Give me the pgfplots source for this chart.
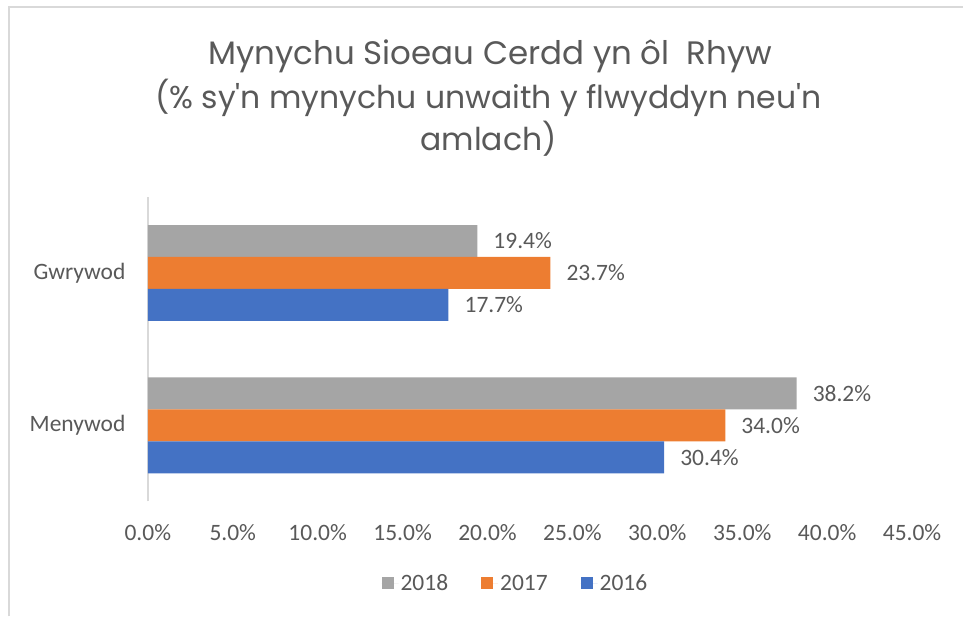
\documentclass[border=0pt]{standalone}
\usepackage{fontspec}
\setmainfont{Carlito}
\newfontfamily\titlefont{Poppins}
\usepackage{pgfplots}
\pgfplotsset{compat=1.18}
\definecolor{bar18}{HTML}{A5A5A5}
\definecolor{bar17}{HTML}{ED7D31}
\definecolor{bar16}{HTML}{4472C4}
\definecolor{txt}{HTML}{595959}
\definecolor{rule}{HTML}{D9D9D9}

\begin{document}
\begin{tikzpicture}[x=1pt,y=1pt]
% page frame: 964 x 617, pixel y measured from the top
\path (0,0) rectangle (964,617);
\draw[rule, line width=2pt] (9,0) -- (9,610) -- (964,610);

% titles
\node[anchor=base, text=txt, font=\titlefont\fontsize{32.5}{38}\selectfont] at (491,552)
  {Mynychu Sioeau Cerdd yn ôl\ \ Rhyw};
\node[anchor=base, text=txt, font=\titlefont\fontsize{31.5}{38}\selectfont] at (489,508)
  {(\% sy'n mynychu unwaith y flwyddyn neu'n};
\node[anchor=base, text=txt, font=\titlefont\fontsize{31.5}{38}\selectfont] at (489,466)
  {amlach)};

\begin{axis}[
    at={(148pt,115pt)}, anchor=south west,
    scale only axis, width=765pt, height=305pt,
    xbar, bar width=32pt,
    xmin=0, xmax=45, ymin=-0.5, ymax=1.5,
    xtick={0,5,...,45}, ytick={0,1},
    yticklabels={Menywod,Gwrywod},
    axis x line*=bottom, axis y line*=left,
    x axis line style={draw=none},
    y axis line style={draw=rule, line width=1.5pt, -},
    major tick length=0pt,
    font=\fontsize{23.5}{28}\selectfont,
    tick label style={text=txt},
    /pgf/number format/assume math mode=true,
    xticklabel={\pgfmathprintnumber[fixed,fixed zerofill,precision=1]{\tick}\%},
    xticklabel style={yshift=-19pt},
    yticklabel style={xshift=-19pt},
    nodes near coords={\pgfmathprintnumber[fixed,fixed zerofill,precision=1]{\pgfplotspointmeta}\%},
    nodes near coords style={anchor=west, inner sep=0pt, xshift=16pt, text=txt},
    legend columns=-1,
    legend style={at={(rel axis cs:0.481,-0.268)}, anchor=center, draw=none,
      fill=none, text=txt, font=\fontsize{23.5}{28}\selectfont,
      /tikz/every even column/.append style={column sep=31pt}},
    legend image code/.code={\fill[#1] (0pt,-6pt) rectangle (12pt,6pt);
      \path (0pt,0pt) -- (17pt,0pt);},
]
\addplot[fill=bar18, draw=none, bar shift=32pt] coordinates {(38.2,0) (19.4,1)};
\addplot[fill=bar17, draw=none, bar shift=0pt] coordinates {(34.0,0) (23.7,1)};
\addplot[fill=bar16, draw=none, bar shift=-32pt] coordinates {(30.4,0) (17.7,1)};
\legend{2018,2017,2016}
\end{axis}
\end{tikzpicture}
\end{document}
